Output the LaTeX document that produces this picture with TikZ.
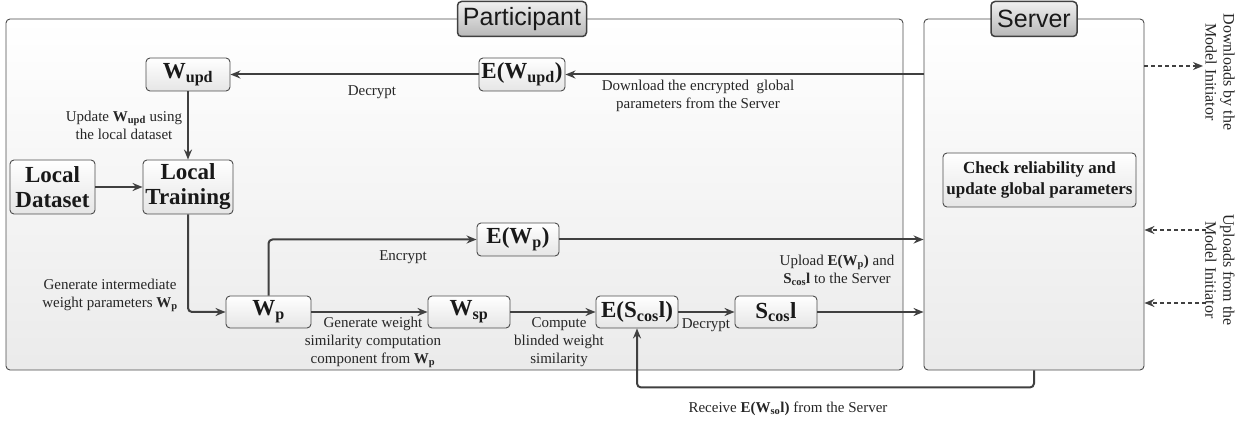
\documentclass[tikz,border=0pt]{standalone}
\usepackage{fontspec}
\setmainfont{Liberation Serif}
\newfontfamily\hdfont{Liberation Sans}
\usetikzlibrary{arrows.meta}
\newcommand{\bsub}[1]{\textsubscript{\textbf{#1}}}
\begin{document}
\begin{tikzpicture}[x=1pt,y=-1pt,
  container/.style={draw=black!70, line width=0.9pt, rounded corners=4pt, top color=white, bottom color=black!8, inner sep=0pt},
  tag/.style={draw=black!75, line width=1.5pt, rounded corners=4pt, top color=black!6, bottom color=black!28, inner sep=0pt, font=\hdfont\fontsize{25}{28}\selectfont, text=black!90},
  box/.style={draw=black!70, line width=0.9pt, rounded corners=4pt, top color=white, bottom color=black!10, inner sep=0pt, align=center, font=\bfseries\fontsize{23}{25}\selectfont, text=black!90},
  lbl/.style={align=center, inner sep=0pt, font=\fontsize{15}{18}\selectfont, text=black!85},
  conn/.style={draw=black!75, line width=2pt, -{Stealth[length=10pt,width=8pt]}},
  dconn/.style={draw=black!75, line width=1.6pt, dash pattern=on 4pt off 3pt, -{Stealth[length=10pt,width=8pt]}}
]
\useasboundingbox (0,0) rectangle (1254,422);

% containers
\node[container, minimum width=897pt, minimum height=351pt] (part) at (454.5,194.5) {};
\node[container, minimum width=220pt, minimum height=351pt] (server) at (1034,194.5) {};
\node[tag, minimum width=129pt, minimum height=35pt] (parttag) at (522,19) {Participant};
\node[tag, minimum width=86pt, minimum height=35pt] (servtag) at (1034,19) {Server};

% boxes
\node[box, minimum width=84pt, minimum height=33pt] (wupd) at (188,74.5) {W\bsub{upd}};
\node[box, minimum width=86pt, minimum height=33pt] (ewupd) at (522,74.5) {E(W\bsub{upd})};
\node[box, minimum width=85pt, minimum height=54pt, font=\bfseries\fontsize{23}{25}\selectfont] (ld) at (52.5,187) {Local\\Dataset};
\node[box, minimum width=90pt, minimum height=54pt, font=\bfseries\fontsize{23}{25}\selectfont] (lt) at (188,187) {Local\\Training};
\node[box, minimum width=85pt, minimum height=32pt] (wp) at (268.5,312) {W\bsub{p}};
\node[box, minimum width=82pt, minimum height=33pt] (ewp) at (518,239.5) {E(W\bsub{p})};
\node[box, minimum width=82pt, minimum height=32pt] (wsp) at (469,312) {W\bsub{sp}};
\node[box, minimum width=82pt, minimum height=32pt] (escos) at (637,312) {E(S\bsub{cos}l)};
\node[box, minimum width=82pt, minimum height=32pt] (scos) at (776,312) {S\bsub{cos}l};
\node[box, minimum width=193pt, minimum height=54pt, font=\bfseries\fontsize{17}{21}\selectfont] (check) at (1039.5,180) {Check reliability and\\update global parameters};

% connectors
\draw[conn] (server.west |- ewupd.east) -- (ewupd.east);
\draw[conn] (ewupd.west) -- (wupd.east);
\draw[conn] (wupd.south) -- (lt.north);
\draw[conn] (ld.east) -- (lt.west);
\draw[conn, rounded corners=4pt] (lt.south) |- (wp.west);
\draw[conn, rounded corners=4pt] (wp.north) |- (ewp.west);
\draw[conn] (ewp.east) -- (ewp.east -| server.west);
\draw[conn] (wp.east) -- (wsp.west);
\draw[conn] (wsp.east) -- (escos.west);
\draw[conn] (escos.east) -- (scos.west);
\draw[conn] (scos.east) -- (scos.east -| server.west);
\draw[conn, rounded corners=4pt] (server.south) -- ++(0,17) -| (escos.south);

% model initiator links
\coordinate (dlend) at (1203,66);
\coordinate (ulA) at (1206,230);
\coordinate (ulB) at (1206,303);
\draw[dconn] (dlend -| server.east) -- (dlend);
\draw[dconn] (ulA) -- (ulA -| server.east);
\draw[dconn] (ulB) -- (ulB -| server.east);
\node[lbl, rotate=-90, font=\fontsize{16}{18}\selectfont] (dltxt) at (1220,72) {Downloads by the\\Model Initiator};
\node[lbl, rotate=-90, font=\fontsize{16}{18}\selectfont] (ultxt) at (1220,270) {Uploads from the\\Model Initiator};

% labels
\node[lbl] (l1) at (372,92) {Decrypt};
\node[lbl] (l2) at (698,96) {Download the encrypted~ global\\parameters from the Server};
\node[lbl] (l3) at (124,125) {Update \textbf{W}\bsub{upd} using\\the local dataset};
\node[lbl] (l4) at (110,295) {Generate intermediate\\weight parameters \textbf{W}\bsub{p}};
\node[lbl] (l5) at (403,257) {Encrypt};
\node[lbl] (l6) at (373,342) {Generate weight\\similarity computation\\component from \textbf{W}\bsub{p}};
\node[lbl] (l7) at (559,342) {Compute\\blinded weight\\similarity};
\node[lbl] (l8) at (706,325) {Decrypt};
\node[lbl] (l9) at (837,270) {Upload \textbf{E(W}\bsub{p}\textbf{)} and\\\textbf{S}\bsub{cos}\textbf{l} to the Server};
\node[lbl] (l10) at (788,409) {Receive \textbf{E(W}\bsub{so}\textbf{l)} from the Server};
\end{tikzpicture}
\end{document}
